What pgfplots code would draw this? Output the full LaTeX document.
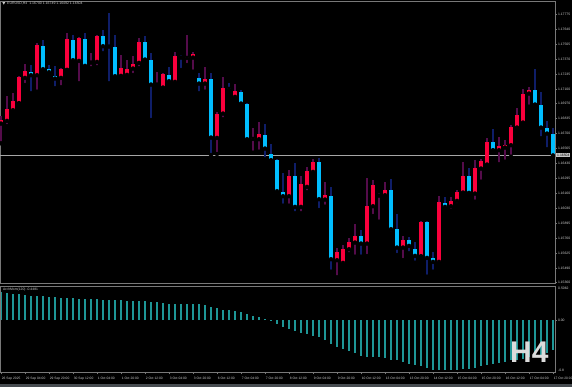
\documentclass[border=0pt]{standalone}
\usepackage{pgfplots}
\pgfplotsset{compat=1.18}
\usepackage{pgfplotstable}
\usepackage{fontspec}
\setmainfont{Liberation Sans}
\definecolor{cred}{RGB}{250,0,60}
\definecolor{cblue}{RGB}{0,190,255}
\definecolor{wred}{RGB}{85,12,75}
\definecolor{wblue}{RGB}{15,30,105}
\definecolor{tealb}{RGB}{30,150,150}
\definecolor{frame}{RGB}{120,120,120}
\definecolor{lbl}{RGB}{205,205,205}
\definecolor{strip}{RGB}{70,75,80}
\definecolor{pbox}{RGB}{200,200,200}
\definecolor{hfour}{RGB}{220,220,220}

\pgfplotstableread{
x o h l c
0 1.16791 1.16857 1.16611 1.16827
1 1.16815 1.17040 1.16767 1.16920
2 1.16911 1.17067 1.16896 1.16995
3 1.16974 1.17217 1.16971 1.17208
4 1.17202 1.17322 1.17136 1.17262
6 1.17226 1.17511 1.17076 1.17496
10 1.17202 1.17286 1.17115 1.17280
11 1.17274 1.17607 1.17271 1.17550
13 1.17355 1.17571 1.17151 1.17559
15 1.17340 1.17421 1.17286 1.17343
16 1.17346 1.17586 1.17295 1.17577
20 1.17220 1.17406 1.17211 1.17295
21 1.17229 1.17361 1.17211 1.17286
22 1.17286 1.17397 1.17226 1.17331
23 1.17337 1.17556 1.17286 1.17526
26 1.17142 1.17256 1.17115 1.17145
27 1.17115 1.17241 1.17106 1.17235
29 1.17166 1.17436 1.17151 1.17397
31 1.17382 1.17586 1.17316 1.17388
32 1.17385 1.17436 1.17256 1.17415
34 1.17151 1.17301 1.17076 1.17196
36 1.16662 1.16896 1.16515 1.16881
37 1.16881 1.17205 1.16827 1.17112
39 1.17031 1.17142 1.17001 1.17082
42 1.16653 1.16752 1.16527 1.16659
43 1.16650 1.16806 1.16536 1.16695
48 1.16137 1.16371 1.16050 1.16317
50 1.16041 1.16317 1.15981 1.16251
51 1.16221 1.16401 1.16170 1.16362
52 1.16356 1.16467 1.16341 1.16446
54 1.16107 1.16266 1.16041 1.16146
56 1.15561 1.15666 1.15405 1.15636
57 1.15537 1.15696 1.15516 1.15666
58 1.15660 1.15756 1.15612 1.15726
59 1.15720 1.15885 1.15591 1.15777
61 1.15711 1.16302 1.15597 1.16047
62 1.16047 1.16281 1.15957 1.16236
63 1.16143 1.16161 1.15906 1.16149
64 1.16146 1.16266 1.16116 1.16197
67 1.15675 1.15780 1.15561 1.15747
70 1.15597 1.15915 1.15591 1.15909
73 1.15546 1.16137 1.15525 1.16086
75 1.16047 1.16131 1.16005 1.16092
76 1.16095 1.16191 1.16056 1.16173
77 1.16170 1.16446 1.16161 1.16317
79 1.16161 1.16461 1.16086 1.16392
80 1.16386 1.16467 1.16266 1.16455
81 1.16422 1.16656 1.16407 1.16623
83 1.16551 1.16671 1.16422 1.16587
84 1.16575 1.16641 1.16446 1.16599
85 1.16596 1.16776 1.16491 1.16761
86 1.16755 1.16932 1.16746 1.16866
87 1.16800 1.17100 1.16791 1.17061
88 1.17061 1.17115 1.16941 1.17097
}\bull

\pgfplotstableread{
x o h l c
5 1.17259 1.17316 1.17061 1.17226
7 1.17490 1.17541 1.17256 1.17280
8 1.17286 1.17316 1.17226 1.17253
9 1.17217 1.17307 1.17106 1.17196
12 1.17547 1.17586 1.17331 1.17361
14 1.17556 1.17601 1.17301 1.17310
17 1.17580 1.17631 1.17421 1.17487
18 1.17490 1.17784 1.17151 1.17484
19 1.17481 1.17586 1.17196 1.17217
24 1.17523 1.17577 1.17346 1.17367
25 1.17367 1.17421 1.16821 1.17142
28 1.17232 1.17301 1.17151 1.17172
30 1.17394 1.17406 1.17271 1.17385
33 1.17205 1.17247 1.17061 1.17151
35 1.17190 1.17241 1.16506 1.16665
38 1.17109 1.17151 1.17076 1.17103
40 1.17076 1.17091 1.16935 1.16971
41 1.16971 1.16977 1.16641 1.16650
44 1.16692 1.16782 1.16467 1.16566
45 1.16515 1.16602 1.16455 1.16461
46 1.16461 1.16467 1.16146 1.16182
47 1.16179 1.16341 1.16050 1.16137
49 1.16317 1.16431 1.15981 1.16041
53 1.16443 1.16476 1.16011 1.16110
55 1.16140 1.16221 1.15456 1.15570
60 1.15777 1.15831 1.15591 1.15711
65 1.16191 1.16287 1.15801 1.15840
66 1.15840 1.15975 1.15606 1.15675
68 1.15741 1.15771 1.15621 1.15690
69 1.15660 1.15726 1.15537 1.15600
71 1.15906 1.15909 1.15411 1.15582
72 1.15582 1.15636 1.15456 1.15546
74 1.16080 1.16125 1.16005 1.16041
78 1.16317 1.16386 1.16161 1.16167
82 1.16626 1.16737 1.16545 1.16551
89 1.17091 1.17277 1.16956 1.16962
90 1.16962 1.17076 1.16656 1.16755
91 1.16755 1.16812 1.16557 1.16701
92 1.16700 1.16749 1.16492 1.16504
}\bear

\pgfplotstableread{
x v
0 0.420
1 0.406
2 0.391
3 0.381
4 0.371
5 0.362
6 0.357
7 0.352
8 0.342
9 0.337
10 0.332
11 0.327
12 0.323
13 0.318
14 0.313
15 0.313
16 0.308
17 0.303
18 0.303
19 0.298
20 0.293
21 0.288
22 0.284
23 0.279
24 0.279
25 0.274
26 0.264
27 0.254
28 0.244
29 0.244
30 0.244
31 0.239
32 0.239
33 0.235
34 0.225
35 0.196
36 0.176
37 0.156
38 0.147
39 0.137
40 0.122
41 0.093
42 0.068
43 0.044
44 0.020
45 0.005
46 -0.049
47 -0.098
48 -0.132
49 -0.156
50 -0.186
51 -0.205
52 -0.230
53 -0.254
54 -0.293
55 -0.352
56 -0.391
57 -0.425
58 -0.459
59 -0.489
60 -0.523
61 -0.538
62 -0.547
63 -0.547
64 -0.557
65 -0.582
66 -0.596
67 -0.621
68 -0.645
69 -0.670
70 -0.684
71 -0.704
72 -0.733
73 -0.743
74 -0.743
75 -0.733
76 -0.733
77 -0.723
78 -0.718
79 -0.704
80 -0.684
81 -0.670
82 -0.655
83 -0.635
84 -0.616
85 -0.596
86 -0.582
87 -0.567
88 -0.547
89 -0.523
90 -0.508
91 -0.489
92 -0.448
}\mom

\begin{document}
\begin{tikzpicture}
\path[use as bounding box] (0,0) rectangle (572bp,-387bp);
\fill[black] (0,0) rectangle (572bp,-387bp);
\fill[strip] (0,-383.5bp) rectangle (572bp,-387bp);

\begin{axis}[name=main, at={(0bp,-1bp)}, anchor=north west,
  scale only axis, width=555bp, height=282.5bp,
  xmin=-0.1667, xmax=92.333, ymin=1.153495, ymax=1.17892,
  axis line style={draw=frame, line width=0.7bp},
  xtick=\empty,
  ytick={1.17775,1.17640,1.17505,1.17370,1.17235,1.17100,1.16970,1.16835,1.16700,1.16565,1.16430,1.16295,1.16160,1.16030,1.15895,1.15760,1.15625,1.15490,1.15360},
  yticklabels={1.17775,1.17640,1.17505,1.17370,1.17235,1.17100,1.16970,1.16835,1.16700,1.16565,1.16430,1.16295,1.16160,1.16030,1.15895,1.15760,1.15625,1.15490,1.15360},
  ytick pos=right, tick align=outside, major tick length=1.8bp,
  tick style={draw=frame, line width=0.5bp},
  yticklabel style={anchor=west, inner sep=0pt, xshift=1bp, text=lbl, font=\fontsize{3.4}{4}\selectfont},
]
\addplot[gray!70, line width=0.6bp] coordinates {(-0.1667,1.16504) (92.333,1.16504)};
\coordinate (pr) at (axis cs:92.333,1.16504);
% wicks (low -> high)
\addplot[only marks, mark=none, error bars/.cd, y dir=plus, y explicit, error mark=none,
  error bar style={draw=wred, line width=1.1bp}]
  table[x=x, y=l, y error plus expr={\thisrow{h}-\thisrow{l}}] {\bull};
\addplot[only marks, mark=none, error bars/.cd, y dir=plus, y explicit, error mark=none,
  error bar style={draw=wblue, line width=1.1bp}]
  table[x=x, y=l, y error plus expr={\thisrow{h}-\thisrow{l}}] {\bear};
% bodies (lower edge -> upper edge)
\addplot[only marks, mark=none, error bars/.cd, y dir=plus, y explicit, error mark=none,
  error bar style={draw=cred, line width=4bp}]
  table[x=x, y expr={min(\thisrow{o},\thisrow{c})-0.00002}, y error plus expr={max(abs(\thisrow{c}-\thisrow{o}),0.00008)}] {\bull};
\addplot[only marks, mark=none, error bars/.cd, y dir=plus, y explicit, error mark=none,
  error bar style={draw=cblue, line width=4bp}]
  table[x=x, y expr={min(\thisrow{o},\thisrow{c})-0.00002}, y error plus expr={max(abs(\thisrow{c}-\thisrow{o}),0.00008)}] {\bear};
\end{axis}

\begin{axis}[name=sub, at={(0bp,-286bp)}, anchor=north west,
  scale only axis, width=555bp, height=86.5bp,
  xmin=-0.1667, xmax=92.333, ymin=-0.774, ymax=0.5062,
  axis on top,
  axis line style={draw=frame, line width=0.7bp},
  xtick={0,4,...,92},
  xticklabels={26 Sep 2025,29 Sep 04:00,29 Sep 20:00,30 Sep 12:00,1 Oct 04:00,1 Oct 20:00,2 Oct 12:00,3 Oct 04:00,3 Oct 20:00,6 Oct 12:00,7 Oct 04:00,7 Oct 20:00,8 Oct 12:00,9 Oct 04:00,9 Oct 20:00,10 Oct 12:00,13 Oct 04:00,13 Oct 20:00,14 Oct 12:00,15 Oct 04:00,15 Oct 20:00,16 Oct 12:00,17 Oct 04:00,17 Oct 20:00},
  xtick pos=lower, tick align=outside, major tick length=1.8bp,
  tick style={draw=frame, line width=0.5bp},
  xticklabel style={anchor=north west, inner sep=0pt, xshift=0.6bp, yshift=-2.5bp, text=lbl, font=\fontsize{3.3}{4}\selectfont},
  ytick={0}, yticklabels={0.00}, ytick pos=right,
  yticklabel style={anchor=west, inner sep=0pt, xshift=1bp, text=lbl, font=\fontsize{3.4}{4}\selectfont},
]
\addplot[ycomb, draw=tealb, line width=1.3bp, mark=none] table[x=x, y=v] {\mom};
\end{axis}

\node[anchor=west, inner sep=0pt, text=lbl, font=\fontsize{3.5}{4}\selectfont] at (7bp,-3.3bp) {EURUSD,H4\ \ 1.16700 1.16749 1.16492 1.16504};
\fill[lbl] (2.4bp,-2.2bp) -- (5.2bp,-2.2bp) -- (3.8bp,-4.6bp) -- cycle;
\node[anchor=west, inner sep=0pt, text=lbl, font=\fontsize{3.4}{4}\selectfont] at (3bp,-289.5bp) {ArchMom(120) -0.4481};
\node[anchor=west, inner sep=0pt, text=lbl, font=\fontsize{3.4}{4}\selectfont] at (558bp,-288bp) {0.5062};
\node[anchor=west, inner sep=0pt, text=lbl, font=\fontsize{3.4}{4}\selectfont] at (558bp,-370.5bp) {-0.8};
\node[anchor=west, fill=pbox, text=black, inner xsep=1bp, inner ysep=0.8bp, font=\fontsize{3.4}{4}\selectfont] at ([xshift=1bp]pr) {1.16504};
\node[anchor=north west, inner sep=0pt, text=hfour, font=\fontsize{30}{30}\selectfont\bfseries] at (510bp,-342bp) {H4};
\end{tikzpicture}
\end{document}
